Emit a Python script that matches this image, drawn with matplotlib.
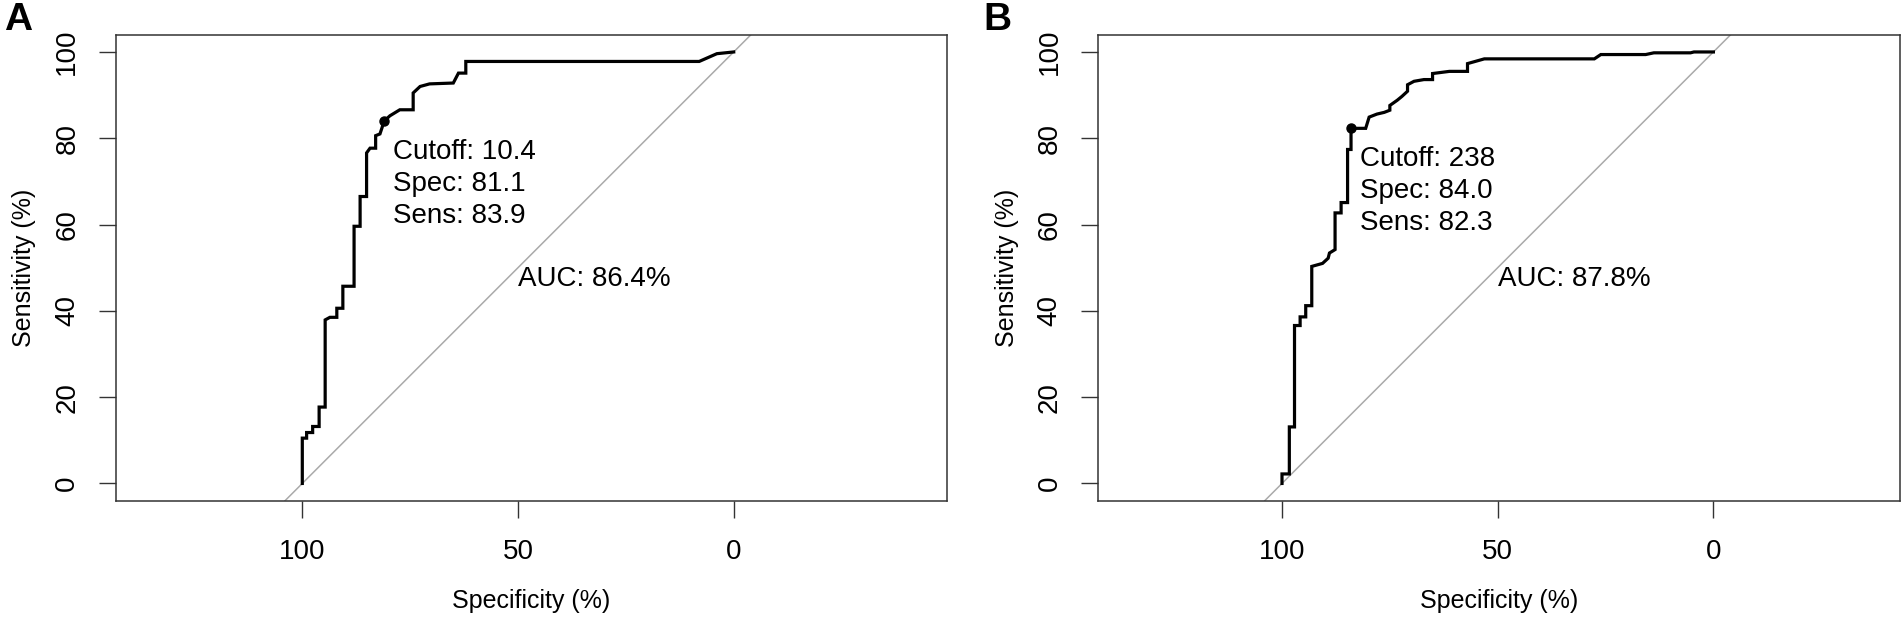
import matplotlib
matplotlib.use("Agg")
import matplotlib.pyplot as plt

plt.rcParams["font.family"] = ["Liberation Sans", "DejaVu Sans"]

# ROC curve A (specificity %, sensitivity %)
spec_a = [100, 100, 99.0, 99.0, 97.6, 97.6, 96.1, 96.1, 94.7, 94.7, 93.6, 92.0,
          92.0, 90.6, 90.6, 88.0, 88.0, 86.6, 86.6, 85.1, 85.1, 84.3, 83.0, 83.0,
          82.0, 81.5, 81.1, 79.7, 77.4, 74.3, 74.3, 72.7, 70.5, 65.0, 63.8, 62.1,
          62.1, 8.0, 3.9, 0]
sens_a = [0, 10.5, 10.5, 11.8, 11.8, 13.2, 13.2, 17.7, 17.7, 37.9, 38.5, 38.5,
          40.6, 40.6, 45.7, 45.7, 59.6, 59.6, 66.5, 66.5, 76.6, 77.7, 77.7, 80.6,
          81.0, 82.5, 83.9, 85.2, 86.6, 86.6, 90.5, 92.0, 92.6, 92.8, 95.1, 95.1,
          97.8, 97.8, 99.6, 100]

# ROC curve B
spec_b = [100, 100, 98.3, 98.3, 97.1, 97.1, 95.8, 95.8, 94.5, 94.5, 93.1, 93.1,
          90.6, 89.3, 89.0, 87.7, 87.7, 86.3, 86.3, 84.8, 84.8, 84.0, 84.0, 80.6,
          79.8, 78.0, 76.3, 75.0, 75.0, 73.3, 72.2, 70.9, 70.9, 69.4, 67.1, 65.1,
          65.1, 61.2, 57.0, 57.0, 53.1, 27.6, 26.1, 15.7, 13.8, 5.3, 4.5, 0]
sens_b = [0, 2.2, 2.2, 13.1, 13.1, 36.6, 36.6, 38.6, 38.6, 41.2, 41.2, 50.3,
          51.0, 52.2, 53.4, 54.2, 62.7, 62.7, 65.1, 65.1, 77.4, 77.4, 82.3, 82.3,
          84.9, 85.6, 86.0, 86.5, 87.6, 88.8, 89.7, 90.9, 92.4, 93.2, 93.6, 93.6,
          95.0, 95.5, 95.5, 97.3, 98.4, 98.4, 99.4, 99.4, 99.8, 99.8, 100, 100]

panels = ["A", "B"]
cutoffs = ["10.4", "238"]
best_spec = [81.1, 84.0]
best_sens = [83.9, 82.3]
aucs = [86.4, 87.8]
curves = [(spec_a, sens_a), (spec_b, sens_b)]

fig = plt.figure(figsize=(19.04, 6.22), dpi=100)
W, H = 1904, 622
px_per_unit = 4.314
tick100_px = [302.3, 1282.0]
box_left = [115.7, 1098.0]
box_right = [947.0, 1900.0]
box_top, box_bot = 34.7, 500.7
label_x = [4, 983]

for i in range(2):
    ax = fig.add_axes([box_left[i] / W, 1 - box_bot / H,
                       (box_right[i] - box_left[i]) / W, (box_bot - box_top) / H])
    x_left = 100 + (tick100_px[i] - box_left[i]) / px_per_unit
    x_right = 100 - (box_right[i] - tick100_px[i]) / px_per_unit

    spec, sens = curves[i]
    ax.axline((100, 0), (0, 100), color="#aaaaaa", lw=1.1, zorder=1)
    ax.plot(spec, sens, color="black", lw=2.3, solid_joinstyle="miter", zorder=3)
    ax.plot(best_spec[i], best_sens[i], "o", color="black", ms=6.5, zorder=4)
    lines = [f"Cutoff: {cutoffs[i]}", f"Spec: {best_spec[i]:.1f}",
             f"Sens: {best_sens[i]:.1f}"]
    for k, line in enumerate(lines):
        ax.text(best_spec[i] - 2.1, best_sens[i] - 7.2 - 7.33 * k, line,
                ha="left", va="center", fontsize=20)
    ax.text(50, 50.5, f"AUC: {aucs[i]:.1f}%", ha="left", va="top", fontsize=20)

    ax.set_xlim(x_left, x_right)
    ax.set_ylim(-4, 104)
    ax.set_xticks([100, 50, 0])
    ax.set_yticks([0, 20, 40, 60, 80, 100])
    ax.tick_params(axis="both", direction="out", length=12.5, width=1.0,
                   color="#333333", labelsize=20)
    ax.tick_params(axis="x", pad=15)
    ax.tick_params(axis="y", pad=13)
    for lbl in ax.get_yticklabels():
        lbl.set_rotation(90)
        lbl.set_va("center")
    for s in ax.spines.values():
        s.set_linewidth(1.1)
        s.set_color("#333333")
    ax.set_xlabel("Specificity (%)", fontsize=18, labelpad=17)
    ax.set_ylabel("Sensitivity (%)", fontsize=18, labelpad=13)

    fig.text(label_x[i] / W, 1 - 2 / H, panels[i], ha="left", va="top",
             fontsize=28, fontweight="bold")

fig.savefig("out.png", dpi=100)
